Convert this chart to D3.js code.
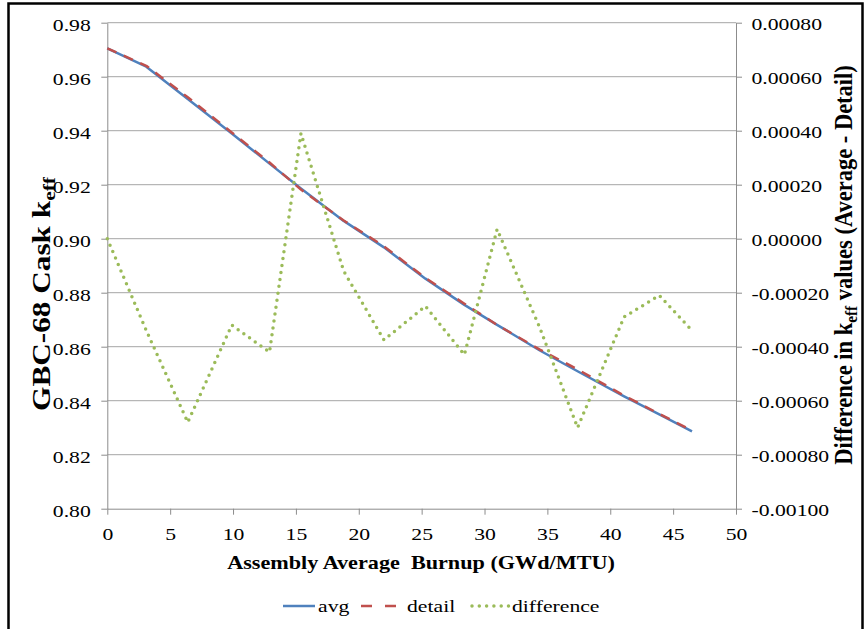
<!DOCTYPE html>
<html>
<head>
<meta charset="utf-8">
<script src="https://cdn.jsdelivr.net/npm/d3@7"></script>
<style>
  html, body { margin: 0; padding: 0; background: #fff; }
  svg { display: block; }
  svg text, svg tspan { font-family: "Liberation Serif", "Times New Roman", Times, serif !important; fill: #000; }
</style>
</head>
<body>
<svg id="chart" width="865" height="629"></svg>
<script>
// Assembly average burnup (GWd/MTU) at each calculation step
const burnup = [0, 3.1, 6.4, 9.9, 12.9, 15.4, 18.8, 22.0, 25.3, 28.4, 31.0, 34.4, 37.4, 41.1, 43.9, 46.5];
// GBC-68 cask k_eff with assembly-average burnup
const avg = [0.9705, 0.9637, 0.9517, 0.9390, 0.9278, 0.9186, 0.9066, 0.8968, 0.8852, 0.8755, 0.8681, 0.8586, 0.8509, 0.8416, 0.8349, 0.8286];
// GBC-68 cask k_eff with detailed burnup
const detail = [0.9705, 0.96404, 0.95238, 0.93932, 0.92822, 0.91821, 0.90672, 0.89718, 0.88545, 0.87593, 0.86807, 0.85893, 0.85160, 0.84189, 0.83511, 0.82894];
// k_eff difference (Average - Detail), secondary axis
const difference = [0.0, -0.00034, -0.00068, -0.00032, -0.00042, 0.00039, -0.00012, -0.000375, -0.00025, -0.00043, 0.000035, -0.00033, -0.00070, -0.00029, -0.00021, -0.00034];

const xTicks = [0, 5, 10, 15, 20, 25, 30, 35, 40, 45, 50];
const leftTicks = [0.80, 0.82, 0.84, 0.86, 0.88, 0.90, 0.92, 0.94, 0.96, 0.98];
const rightTicks = [-0.0010, -0.0008, -0.0006, -0.0004, -0.0002, 0.0, 0.0002, 0.0004, 0.0006, 0.0008];

const seriesNames = ["avg", "detail", "difference"];
const colors = { avg: "#4F81BD", detail: "#C0504D", difference: "#9BBB59" };

const FONT = "'Liberation Serif', 'Times New Roman', Times, serif";
const svg = d3.select("#chart").attr("font-family", FONT);
const plot = { left: 107.3, right: 736, top: 22.7, bottom: 508.7 };
const STRETCH = 1.24;   // horizontal widening of the serif glyphs

const x = d3.scaleLinear().domain([0, 50]).range([plot.left, plot.right]);
const yL = d3.scaleLinear().domain([0.80, 0.98]).range([plot.bottom, plot.top]);
const yR = d3.scaleLinear().domain([-0.0010, 0.0008]).range([plot.bottom, plot.top]);

const locale = d3.formatLocale({ decimal: ".", thousands: ",", grouping: [3], currency: ["", ""], minus: "-" });
const fmtL = locale.format(".2f");
const fmtR = locale.format(".5f");

// outer frame
svg.append("rect")
  .attr("x", 8.5).attr("y", 3.5).attr("width", 854).attr("height", 640)
  .attr("fill", "none").attr("stroke", "#000").attr("stroke-width", 2.5);

// horizontal gridlines
svg.append("g")
  .selectAll("line")
  .data(leftTicks.slice(1))
  .join("line")
  .attr("x1", plot.left).attr("x2", plot.right)
  .attr("y1", d => yL(d)).attr("y2", d => yL(d))
  .attr("stroke", "#A6A6A6").attr("stroke-width", 1);

const axisColor = "#8C8C8C";
function styleAxis(g) {
  g.attr("font-family", FONT);
  g.selectAll(".domain").attr("stroke", axisColor).attr("stroke-width", 1);
  g.selectAll(".tick line").attr("stroke", axisColor).attr("stroke-width", 1);
  g.selectAll(".tick text").attr("font-size", 17.5).attr("fill", "#000").style("font-family", FONT);
}

// bottom axis
const gx = svg.append("g")
  .attr("transform", `translate(0,${plot.bottom})`)
  .call(d3.axisBottom(x).tickValues(xTicks).tickFormat(d3.format("d")).tickSize(6).tickSizeOuter(0))
  .call(styleAxis);
gx.selectAll(".tick text")
  .attr("y", null).attr("dy", null)
  .attr("transform", `translate(0,31) scale(${STRETCH},1)`);

// left axis
const gl = svg.append("g")
  .attr("transform", `translate(${plot.left},0)`)
  .call(d3.axisLeft(yL).tickValues(leftTicks).tickFormat(fmtL).tickSize(6).tickSizeOuter(0))
  .call(styleAxis);
gl.selectAll(".tick text")
  .attr("x", null).attr("dy", null)
  .attr("transform", `translate(-16.5,7.3) scale(${STRETCH},1)`);

// right axis
const gr = svg.append("g")
  .attr("transform", `translate(${plot.right},0)`)
  .call(d3.axisRight(yR).tickValues(rightTicks).tickFormat(fmtR).tickSize(6).tickSizeOuter(0))
  .call(styleAxis);
gr.selectAll(".tick text")
  .attr("x", null).attr("dy", null)
  .attr("transform", `translate(15.5,7) scale(${STRETCH},1)`);

// series
const idx = d3.range(burnup.length);
const lineL = vals => d3.line().x(i => x(burnup[i])).y(i => yL(vals[i]))(idx);
const lineR = vals => d3.line().x(i => x(burnup[i])).y(i => yR(vals[i]))(idx);

svg.append("path").attr("d", lineL(avg))
  .attr("fill", "none").attr("stroke", colors.avg).attr("stroke-width", 2.5)
  .attr("stroke-linejoin", "round");
svg.append("path").attr("d", lineL(detail))
  .attr("fill", "none").attr("stroke", colors.detail).attr("stroke-width", 2.5)
  .attr("stroke-dasharray", "10 8").attr("stroke-linejoin", "round");
svg.append("path").attr("d", lineR(difference))
  .attr("fill", "none").attr("stroke", colors.difference).attr("stroke-width", 3.5)
  .attr("stroke-dasharray", "0 7").attr("stroke-linecap", "round").attr("stroke-linejoin", "round");

// scale factor that fits a text's run to a target length
function fitScale(sel, targetLen) {
  return targetLen / sel.node().getComputedTextLength();
}

// x axis title
const xt = svg.append("text")
  .attr("font-size", 18).attr("font-weight", "bold").attr("text-anchor", "middle")
  .style("white-space", "pre")
  .text("Assembly Average  Burnup (GWd/MTU)");
xt.attr("transform", `translate(421,569) scale(${fitScale(xt, 388)},1)`);

// left axis title
const lt = svg.append("text")
  .attr("font-size", 19).attr("font-weight", "bold").attr("text-anchor", "middle");
lt.append("tspan").text("GBC-68 Cask k");
lt.append("tspan").attr("font-size", 13).attr("dy", 4).text("eff");
lt.attr("transform", `translate(50,294) rotate(-90) scale(${fitScale(lt, 234)},1.3)`);

// right axis title
const rt = svg.append("text")
  .attr("font-size", 19).attr("font-weight", "bold").attr("text-anchor", "middle");
rt.append("tspan").text("Difference in k");
rt.append("tspan").attr("font-size", 13).attr("dy", 4).text("eff");
rt.append("tspan").attr("dy", -4).text(" values (Average - Detail)");
rt.attr("transform", `translate(852,265) rotate(-90) scale(${fitScale(rt, 400)},1.3)`);

// legend
const legendY = 606;
const legend = [
  { key: "avg", x0: 283, x1: 315, tx: 318 },
  { key: "detail", x0: 361, x1: 396, tx: 407 },
  { key: "difference", x0: 472, x1: 510, tx: 512 }
];
const lg = svg.append("g");
legend.forEach(d => {
  const ln = lg.append("line")
    .attr("x1", d.x0).attr("x2", d.x1).attr("y1", legendY).attr("y2", legendY)
    .attr("stroke", colors[d.key]);
  if (d.key === "avg") ln.attr("stroke-width", 2.5);
  if (d.key === "detail") ln.attr("stroke-width", 2.5).attr("stroke-dasharray", "11 13");
  if (d.key === "difference") ln.attr("stroke-width", 3.5).attr("stroke-dasharray", "0 7.3").attr("stroke-linecap", "round");
  lg.append("text")
    .attr("font-size", 17.5)
    .attr("transform", `translate(${d.tx},${legendY + 5.5}) scale(${STRETCH},1)`)
    .text(seriesNames[seriesNames.indexOf(d.key)]);
});
</script>
</body>
</html>
